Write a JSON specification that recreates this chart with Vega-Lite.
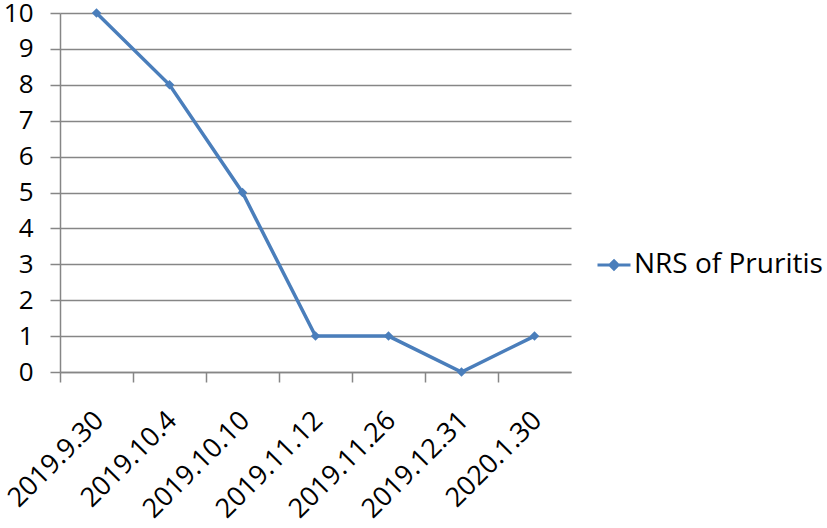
{
  "$schema": "https://vega.github.io/schema/vega-lite/v6.json",
  "autosize": {"type": "none"},
  "padding": {"left": 60, "top": 13, "right": 256, "bottom": 156},
  "width": 511,
  "height": 359,
  "background": "white",
  "config": {
    "view": {"stroke": null},
    "font": "Open Sans"
  },
  "data": {
    "values": [
      {"date": "2019.9.30", "nrs": 10},
      {"date": "2019.10.4", "nrs": 8},
      {"date": "2019.10.10", "nrs": 5},
      {"date": "2019.11.12", "nrs": 1},
      {"date": "2019.11.26", "nrs": 1},
      {"date": "2019.12.31", "nrs": 0},
      {"date": "2020.1.30", "nrs": 1}
    ]
  },
  "mark": {"type": "line", "strokeWidth": 3.5, "point": {"shape": "diamond", "size": 90, "filled": true, "color": "#4A7EBB"}},
  "encoding": {
    "x": {
      "field": "date", "type": "ordinal", "sort": null,
      "scale": {"type": "band", "paddingInner": 0, "paddingOuter": 0},
      "axis": {
        "title": null, "bandPosition": 0, "labelAngle": -45, "labelAlign": "right", "labelBaseline": "middle",
        "labelFontSize": 27, "labelColor": "#000000", "labelPadding": 34, "labelFont": "Open Sans",
        "tickSize": 10, "tickColor": "#868686", "domainColor": "#868686", "tickWidth": 1.5, "domainWidth": 1.5,
        "labelOffset": 3, "labelLimit": 300
      }
    },
    "y": {
      "field": "nrs", "type": "quantitative",
      "scale": {"domain": [0, 10], "nice": false},
      "axis": {
        "title": null, "values": [0,1,2,3,4,5,6,7,8,9,10], "labelFontSize": 26, "labelColor": "#000000",
        "labelPadding": 17, "tickSize": 10, "tickColor": "#868686", "gridColor": "#868686", "grid": true,
        "domainColor": "#868686", "tickWidth": 1.5, "gridWidth": 1.5, "domainWidth": 1.5, "labelFont": "Open Sans"
      }
    },
    "color": {
      "datum": "NRS of Pruritis",
      "scale": {"range": ["#4A7EBB"]},
      "legend": {
        "title": null, "orient": "none", "legendX": 536, "legendY": 234,
        "labelFontSize": 28, "labelColor": "#000000", "labelFont": "Open Sans", "labelOffset": 2, "labelLimit": 400,
        "symbolType": "M-1,0L1,0M0,-0.25L0.25,0L0,0.25L-0.25,0Z",
        "symbolSize": 1089, "symbolStrokeWidth": 3, "symbolFillColor": "#4A7EBB", "symbolStrokeColor": "#4A7EBB"
      }
    }
  }
}
